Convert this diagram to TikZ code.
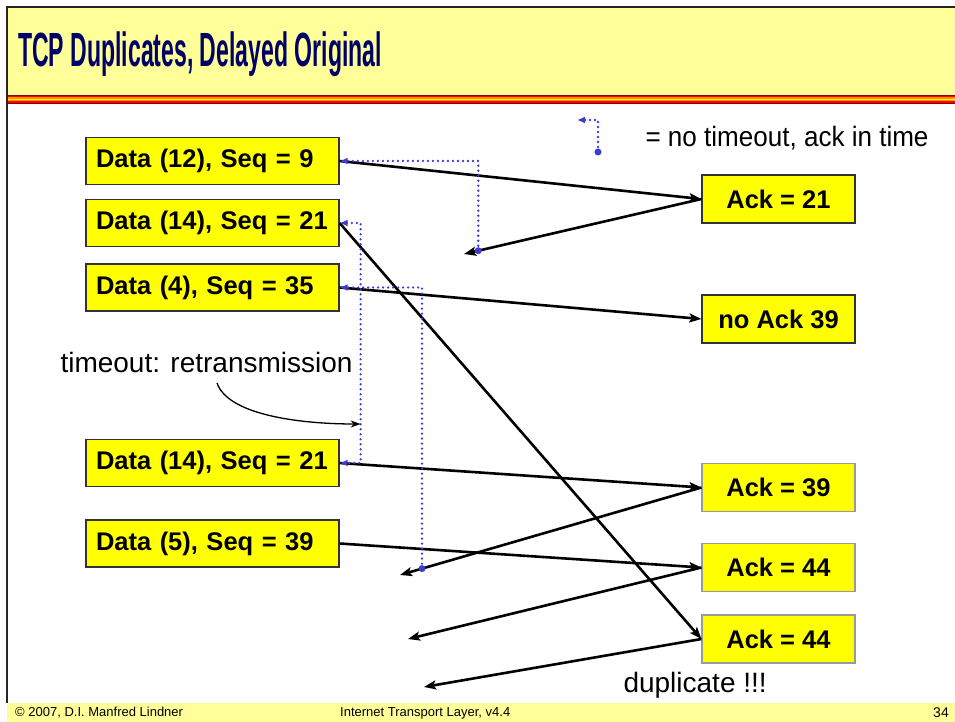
\documentclass[tikz,border=0pt]{standalone}
\usepackage{fontspec}
\setmainfont{Liberation Sans}
\usepackage{tikz}
\usetikzlibrary{arrows.meta, calc}
\definecolor{slideyellow}{RGB}{255, 255, 153}
\definecolor{boxyellow}{RGB}{255, 255, 0}
\definecolor{titlenavy}{RGB}{0, 0, 102}
\definecolor{dotblue}{RGB}{60, 60, 210}
\definecolor{stripered}{RGB}{140, 0, 0}
\definecolor{stripeorange}{RGB}{255, 150, 0}

\begin{document}
\begin{tikzpicture}[
    x=1pt, y=-1pt,
    databox/.style={
        rectangle,
        fill=boxyellow,
        draw=black!80,
        line width=1.2pt,
        minimum width=253pt,
        minimum height=47pt,
        text width=237pt,
        inner xsep=8pt,
        align=left,
        font=\fontsize{25.5}{30}\selectfont\bfseries
    },
    ackbox/.style={
        rectangle,
        fill=boxyellow,
        draw=black!80,
        line width=1.2pt,
        minimum width=153pt,
        minimum height=48pt,
        font=\fontsize{25.5}{30}\selectfont\bfseries
    },
    msg/.style={line width=2.6pt, -{Stealth[length=12pt, width=9pt, inset=2.5pt]}},
    ackdot/.style={dotblue, line width=2.6pt, line cap=round, dash pattern=on 0pt off 5pt},
    remark/.style={anchor=west, font=\fontsize{28}{32}\selectfont},
    footer/.style={inner sep=1pt, font=\fontsize{13}{15}\selectfont}
]
    \useasboundingbox (0,0) rectangle (955,722);

    % Slide frame
    \fill[slideyellow] (7,7) rectangle (955,95);
    \foreach \col/\top/\bot in {stripered/95/104, red/96/103, stripeorange/97.5/101.5, yellow/99/100} {
        \fill[\col] (7,\top) rectangle (955,\bot);
    }
    \fill[slideyellow] (7,703) rectangle (955,722);
    \draw[black!85, line width=2pt] (7,703) -- (7,7) -- (955,7);
    \node[anchor=base west, text=titlenavy, inner sep=0] (title) at (18,67)
        {\scalebox{0.48}[1]{\fontsize{48}{48}\selectfont\bfseries TCP Duplicates, Delayed Original}};

    % Sender side
    \node[databox] (d12) at (212.5,161) {\hspace{2pt}Data (12), Seq = 9};
    \node[databox] (d14) at (212.5,223) {\hspace{2pt}Data (14), Seq = 21};
    \node[databox] (d4) at (212.5,287.5) {\hspace{2pt}Data (4), Seq = 35};
    \node[databox] (d14r) at (212.5,463) {\hspace{2pt}Data (14), Seq = 21};
    \node[databox] (d5) at (212.5,543.5) {\hspace{2pt}Data (5), Seq = 39};

    % Receiver side
    \node[ackbox] (a21) at (778.5,199) {Ack = 21};
    \node[ackbox] (na39) at (778.5,319) {no Ack 39};
    \node[ackbox, draw=black!40] (a39) at (778.5,487.5) {Ack = 39};
    \node[ackbox, draw=black!40] (a44) at (778.5,567.5) {Ack = 44};
    \node[ackbox, draw=black!40] (a44d) at (778.5,639) {Ack = 44};

    % Free ends of the acks
    \coordinate (r21) at (464,254);
    \coordinate (r39) at (400,575);
    \coordinate (r44) at (408,639);
    \coordinate (r44d) at (424,687);

    % Segments
    \draw[msg] (d12.east) -- (a21.west);
    \draw[msg] (d14.east) -- (a44d.west);
    \draw[msg] (d4.east) -- (na39.west);
    \draw[msg] (d14r.east) -- (a39.west);
    \draw[msg] (d5.east) -- (a44.west);

    % Acks
    \draw[msg] (a21.west) -- coordinate[pos=0.94] (t21) (r21);
    \draw[msg] (a39.west) -- coordinate[pos=0.927] (t39) (r39);
    \draw[msg] (a44.west) -- (r44);
    \draw[msg] (a44d.west) -- (r44d);

    % Ack in time
    \draw[ackdot, -{Latex[length=8pt, width=7pt]}] (t21) |- (d12.east);
    \fill[dotblue] (t21) circle (3.5pt);
    \draw[ackdot, -{Latex[length=8pt, width=7pt]}] (t39) |- (d4.east);
    \fill[dotblue] (t39) circle (3.5pt);

    % Timeout
    \draw[ackdot, {Latex[length=8pt, width=7pt]}-{Latex[length=8pt, width=7pt]}] (d14.east) -- ++(21,0) coordinate (tc) |- (d14r.east);
    \coordinate (tmo) at ($(tc)+(0,201)$);
    \node[remark] (to) at (57,362) {timeout: retransmission};
    \coordinate (tf) at (217,383);
    \draw[line width=1.3pt, -{Stealth[length=10pt, width=7pt]}] (tf) .. controls (228,415) and (300,424) .. (tmo);

    % Legend
    \coordinate (lg) at (598,152);
    \coordinate (lt) at (577,120);
    \draw[ackdot, -{Latex[length=8pt, width=7pt]}] (lg) |- (lt);
    \fill[dotblue] (lg) circle (3.5pt);
    \node[remark] (lgtext) at (642,138) {\scalebox{0.93}[1]{= no timeout, ack in time}};

    \node[remark] (dup) at (620,685) {duplicate !!!};

    % Footer
    \node[footer, anchor=west] (copy) at (14,713) {\copyright{} 2007, D.I. Manfred Lindner};
    \node[footer, anchor=west] (course) at (339,713) {Internet Transport Layer, v4.4};
    \node[footer, anchor=east, font=\fontsize{14}{16}\selectfont] (page) at (950,713) {34};
\end{tikzpicture}
\end{document}
